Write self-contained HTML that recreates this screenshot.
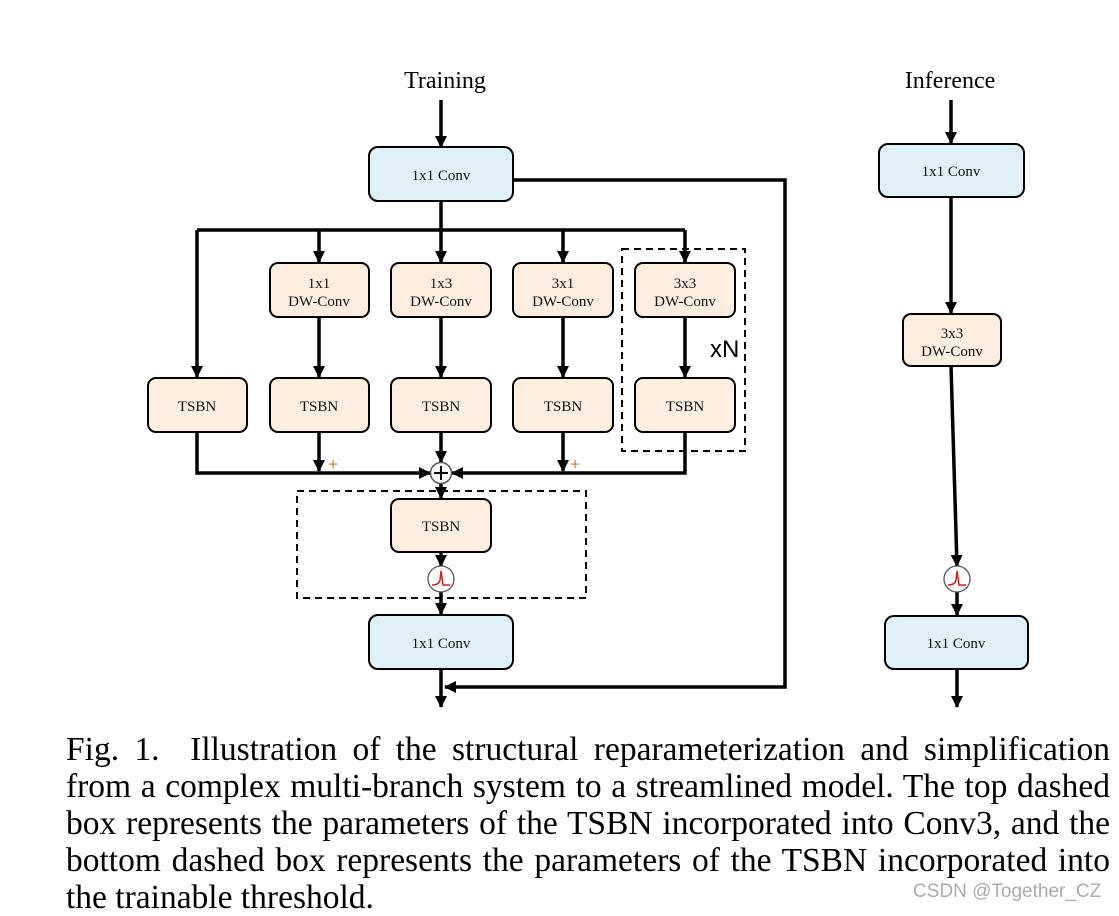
<!DOCTYPE html>
<html><head><meta charset="utf-8"><style>
html,body{margin:0;padding:0;background:#fff;width:1119px;height:914px;overflow:hidden}
.cap{position:absolute;left:66px;top:731px;width:1044px;font-family:"Liberation Serif",serif;font-size:33.5px;line-height:37px;color:#000}
.cap span{display:block;white-space:nowrap}
.cap span.l{text-align:justify;text-align-last:justify}
.wm{position:absolute;left:913px;top:881px;font-family:"Liberation Sans",sans-serif;font-size:19px;color:#aaa}
</style></head><body>
<svg width="1119" height="914" style="position:absolute;left:0;top:0" xmlns="http://www.w3.org/2000/svg">
<defs>
<marker id="b" markerWidth="12" markerHeight="12" refX="11" refY="6" orient="auto" markerUnits="userSpaceOnUse"><path d="M0,0 L12,6 L0,12 z" fill="#000"/></marker></defs>
<g font-family="Liberation Serif, serif" text-anchor="middle">
<text x="445" y="88" font-size="24">Training</text>
<text x="950" y="88" font-size="24">Inference</text>
</g>
<g stroke="#000" stroke-width="3.5" fill="none">
<line x1="441" y1="100" x2="441" y2="147" marker-end="url(#b)"/>
<polyline points="513,180 785,180 785,687 445,687" marker-end="url(#b)"/>
<line x1="441" y1="201" x2="441" y2="230"/>
<polyline points="197,230 685,230"/>
<line x1="319" y1="230" x2="319" y2="262" marker-end="url(#b)"/>
<line x1="441" y1="230" x2="441" y2="262" marker-end="url(#b)"/>
<line x1="563" y1="230" x2="563" y2="262" marker-end="url(#b)"/>
<line x1="685" y1="230" x2="685" y2="262" marker-end="url(#b)"/>
<line x1="197" y1="230" x2="197" y2="377" marker-end="url(#b)"/>
<line x1="319" y1="317" x2="319" y2="377" marker-end="url(#b)"/>
<line x1="441" y1="317" x2="441" y2="377" marker-end="url(#b)"/>
<line x1="563" y1="317" x2="563" y2="377" marker-end="url(#b)"/>
<line x1="685" y1="317" x2="685" y2="377" marker-end="url(#b)"/>
<polyline points="197,432 197,473 430,473" marker-end="url(#b)"/>
<polyline points="685,432 685,473 452,473" marker-end="url(#b)"/>
<line x1="319" y1="432" x2="319" y2="471" marker-end="url(#b)"/>
<line x1="563" y1="432" x2="563" y2="471" marker-end="url(#b)"/>
<line x1="441" y1="432" x2="441" y2="462" marker-end="url(#b)"/>
<line x1="441" y1="484" x2="441" y2="498" marker-end="url(#b)"/>
<line x1="441" y1="552" x2="441" y2="566" marker-end="url(#b)"/>
<line x1="441" y1="592" x2="441" y2="614" marker-end="url(#b)"/>
<line x1="441" y1="669" x2="441" y2="707" marker-end="url(#b)"/>
<line x1="951" y1="100" x2="951" y2="143" marker-end="url(#b)"/>
<line x1="951" y1="197" x2="951" y2="313" marker-end="url(#b)"/>
<line x1="951" y1="366" x2="957" y2="566" marker-end="url(#b)"/>
<line x1="957" y1="592" x2="957" y2="615" marker-end="url(#b)"/>
<line x1="957" y1="669" x2="957" y2="707" marker-end="url(#b)"/>
</g>
<g stroke="#000" stroke-width="2" fill="none" stroke-dasharray="7,5">
<rect x="622" y="249" width="123" height="202"/>
<rect x="297" y="491" width="289" height="107"/>
</g>
<g stroke="#000" stroke-width="2">
<rect x="369" y="147" width="144" height="54" rx="9" fill="#dff0f8"/>
<rect x="369" y="615" width="144" height="54" rx="9" fill="#dff0f8"/>
<rect x="879" y="144" width="145" height="53" rx="9" fill="#dff0f8"/>
<rect x="885" y="616" width="143" height="53" rx="9" fill="#dff0f8"/>
<g fill="#fdeee0">
<rect x="270" y="263" width="99" height="54" rx="8"/>
<rect x="391" y="263" width="100" height="54" rx="8"/>
<rect x="513" y="263" width="100" height="54" rx="8"/>
<rect x="635" y="263" width="100" height="54" rx="8"/>
<rect x="148" y="378" width="99" height="54" rx="8"/>
<rect x="270" y="378" width="99" height="54" rx="8"/>
<rect x="391" y="378" width="100" height="54" rx="8"/>
<rect x="513" y="378" width="100" height="54" rx="8"/>
<rect x="635" y="378" width="100" height="54" rx="8"/>
<rect x="391" y="499" width="100" height="53" rx="8"/>
<rect x="903" y="314" width="98" height="52" rx="8"/>
</g>
</g>
<circle cx="441" cy="473" r="10.5" fill="#fff" stroke="#555" stroke-width="1.5"/>
<path d="M434,473 H448 M441,466 V480" stroke="#000" stroke-width="2"/>
<g fill="#fff" stroke="#555" stroke-width="1.3">
<circle cx="441" cy="579" r="13"/><circle cx="957" cy="579" r="13"/></g>
<g stroke="#d02020" stroke-width="1.5" fill="none">
<path d="M432,585 Q439,585 440,580 L441,571 L443,585 L450,585"/>
<path d="M948,585 Q955,585 956,580 L957,571 L959,585 L966,585"/>
</g>
<g font-family="Liberation Serif, serif" font-size="15" text-anchor="middle" fill="#111">
<text x="441" y="180">1x1 Conv</text>
<text x="441" y="648">1x1 Conv</text>
<text x="951" y="176">1x1 Conv</text>
<text x="956" y="648">1x1 Conv</text>
<text x="319" y="288">1x1</text><text x="319" y="306">DW-Conv</text>
<text x="441" y="288">1x3</text><text x="441" y="306">DW-Conv</text>
<text x="563" y="288">3x1</text><text x="563" y="306">DW-Conv</text>
<text x="685" y="288">3x3</text><text x="685" y="306">DW-Conv</text>
<text x="952" y="338">3x3</text><text x="952" y="356">DW-Conv</text>
<text x="197" y="411">TSBN</text><text x="319" y="411">TSBN</text><text x="441" y="411">TSBN</text>
<text x="563" y="411">TSBN</text><text x="685" y="411">TSBN</text><text x="441" y="531">TSBN</text>
</g>
<text x="710" y="357" font-family="Liberation Sans, sans-serif" font-size="24">xN</text>
<g font-family="Liberation Serif, serif" font-size="18" fill="#b06000">
<text x="328" y="470">+</text><text x="570" y="470">+</text></g>
</svg>
<div class="cap"><span class="l">Fig. 1.&nbsp; Illustration of the structural reparameterization and simplification</span><span class="l">from a complex multi-branch system to a streamlined model. The top dashed</span><span class="l">box represents the parameters of the TSBN incorporated into Conv3, and the</span><span class="l">bottom dashed box represents the parameters of the TSBN incorporated into</span><span>the trainable threshold.</span></div>
<div class="wm">CSDN @Together_CZ</div>
</body></html>
